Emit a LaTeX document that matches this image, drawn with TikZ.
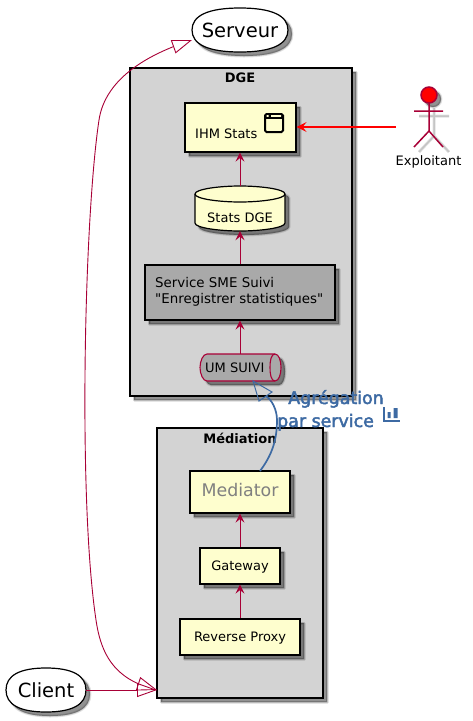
\documentclass[tikz,border=0pt]{standalone}
\usepackage{fontspec}
\setmainfont{DejaVu Sans}
\newfontfamily\semibold[FakeBold=2.6]{DejaVu Sans}
\newfontfamily\plainquotes{DejaVu Sans}
\usetikzlibrary{arrows.meta,shapes.geometric,bending}
\definecolor{crim}{HTML}{A80036}
\definecolor{boxy}{HTML}{FEFECE}
\definecolor{blueline}{HTML}{3D6AA3}
\definecolor{contgray}{HTML}{D3D3D3}
\definecolor{darkg}{HTML}{A9A9A9}
\newcommand{\softshadow}[1]{%
  \foreach \w in {3,1.6,0.4}{%
    \path[fill=black,draw=black,fill opacity=.17,draw opacity=.1,line width=\w pt,shift={(4,4)},line join=round] #1;}}
\newcommand{\fs}[1]{\fontsize{#1pt}{16.5pt}\selectfont}
% fat ellipse: centre x, centre y, x radius, y radius
\newcommand{\fatellipse}[4]{(#1-#3,#2) .. controls (#1-#3,#2-0.66*#4) and (#1-0.66*#3,#2-#4) .. (#1,#2-#4) .. controls (#1+0.66*#3,#2-#4) and (#1+#3,#2-0.66*#4) .. (#1+#3,#2) .. controls (#1+#3,#2+0.66*#4) and (#1+0.66*#3,#2+#4) .. (#1,#2+#4) .. controls (#1-0.66*#3,#2+#4) and (#1-#3,#2+0.66*#4) .. (#1-#3,#2) -- cycle}
\tikzset{
  x=1pt,y=-1pt,
  boxnode/.style={draw=black,line width=1.2pt,fill=boxy,inner sep=0pt,rectangle},
  container/.style={draw=black,line width=1.2pt,fill=contgray,inner sep=0pt,rectangle},
  usecase/.style={ellipse,inner sep=0pt,minimum width=96pt,minimum height=44pt},
  lbl/.style={inner sep=0pt,font=\fs{13}},
  titlel/.style={inner sep=0pt,font=\fs{13}\bfseries},
  link/.style={draw=crim,line width=1pt,-{Stealth[length=9pt,width=9pt,inset=3.5pt]}},
  redlink/.style={draw=red,line width=1.8pt,-{Stealth[length=10pt,width=10pt,inset=4pt]}},
  hollow/.style={draw=crim,line width=.9pt},
  bluel/.style={inner sep=0pt,text=blueline,font=\fs{17.4}\semibold},
}
\begin{document}
\begin{tikzpicture}
\useasboundingbox (0,0) rectangle (473,721);
% containers
\softshadow{(130,68) rectangle (352,396)}
\node[container,minimum width=222pt,minimum height=328pt] (dge) at (241,232) {};
\node[titlel] (dget) at (240,78) {DGE};
\softshadow{(157,428) rectangle (323,698)}
\node[container,minimum width=166pt,minimum height=270pt] (med) at (240,563) {};
\node[titlel] (medt) at (240,438) {Médiation};
% use cases
\softshadow{\fatellipse{240}{30}{48}{22}}
\draw[black,line width=1.2pt,fill=white] \fatellipse{240}{30}{48}{22};
\node[usecase] (srv) at (240,30) {\fs{19.5}Serveur};
\softshadow{\fatellipse{46}{690}{40}{22}}
\draw[black,line width=1.2pt,fill=white] \fatellipse{46}{690}{40}{22};
\node[usecase,minimum width=80pt] (cli) at (46,690) {\fs{19.5}Client};
% IHM
\softshadow{(185,103) rectangle (296,152)}
\node[boxnode,minimum width=111pt,minimum height=49pt] (ihm) at (240.5,127.5) {};
\node[lbl,anchor=base west] (ihmt) at (195,138) {IHM Stats};
\draw[black,line width=2pt,rounded corners=1.5pt,fill=boxy] (265,114) rectangle (283,132);
\fill[black] (265,114) rectangle (283,118.5);
\fill[boxy] (266.5,115.2) rectangle (268.5,116.8) (271,115.2) rectangle (281,116.8);
% database
\softshadow{(195,194) -- (195,223) .. controls (195,228) and (220,231) .. (240,231) .. controls (260,231) and (285,228) .. (285,223) -- (285,194) .. controls (285,189) and (260,186) .. (240,186) .. controls (220,186) and (195,189) .. (195,194) -- cycle}
\draw[black,line width=1.2pt,fill=boxy] (195,194) -- (195,223) .. controls (195,228) and (220,231) .. (240,231) .. controls (260,231) and (285,228) .. (285,223) -- (285,194) .. controls (285,189) and (260,186) .. (240,186) .. controls (220,186) and (195,189) .. (195,194) -- cycle;
\draw[black,line width=1.2pt] (195,194) .. controls (195,199) and (220,202) .. (240,202) .. controls (260,202) and (285,199) .. (285,194);
\node[inner sep=0pt,minimum width=90pt,minimum height=45pt] (db) at (240,208.5) {};
\node[lbl,anchor=base] (dbt) at (240,222) {Stats DGE};
% service
\softshadow{(145,265) rectangle (335,320)}
\node[boxnode,fill=darkg,minimum width=190pt,minimum height=55pt] (sme) at (240,292.5) {};
\node[inner sep=0pt,anchor=west,align=left,font=\fs{13.4}\plainquotes] (smet) at (155,292) {Service SME Suivi\\"Enregistrer statistiques"};
% queue
\softshadow{(207,354) -- (275,354) .. controls (279,354) and (281,361) .. (281,367.5) .. controls (281,374) and (279,381) .. (275,381) -- (207,381) .. controls (203,381) and (200,374) .. (200,367.5) .. controls (200,361) and (203,354) .. (207,354) -- cycle}
\draw[crim,line width=1.1pt,fill=darkg] (207,354) -- (275,354) .. controls (279,354) and (281,361) .. (281,367.5) .. controls (281,374) and (279,381) .. (275,381) -- (207,381) .. controls (203,381) and (200,374) .. (200,367.5) .. controls (200,361) and (203,354) .. (207,354) -- cycle;
\draw[crim,line width=1.1pt] (275,354) .. controls (271,354) and (270,361) .. (270,367.5) .. controls (270,374) and (271,381) .. (275,381);
\node[inner sep=0pt,minimum width=80pt,minimum height=27pt] (um) at (240,367.5) {};
\node[lbl,anchor=base west] (umt) at (205,372) {UM SUIVI};
% mediation boxes
\softshadow{(190,471) rectangle (290,513)}
\node[boxnode,minimum width=100pt,minimum height=42pt,text height=11pt,text depth=1.6pt] (mdr) at (240,492) {\fs{17.4}\textcolor{gray}{Mediator}};
\softshadow{(200,548) rectangle (280,584)}
\node[boxnode,minimum width=80pt,minimum height=36pt,text height=10pt,text depth=.6pt] (gw) at (240,566) {\fs{13}Gateway};
\softshadow{(180,619) rectangle (300,655)}
\node[boxnode,minimum width=120pt,minimum height=36pt,text height=10pt,text depth=.6pt] (rp) at (240,637) {\fs{13}Reverse Proxy};
% actor
\coordinate (acth) at (429,95);
\softshadow{(429,95) circle (8)}
\foreach \w in {3,1.5}{\draw[black,opacity=.12,line width=\w pt,shift={(5,5)}] (429,103) -- (429,131) (414,111) -- (444,111) (429,131) -- (414,147) (429,131) -- (444,147);}
\draw[crim,line width=1.5pt,fill=red] (acth) circle (8);
\draw[crim,line width=1.5pt] (429,103) -- (429,131) (414,111) -- (443,111) (429,131) -- (414,147) (429,131) -- (443,147);
\node[lbl,anchor=base] (actt) at (428.5,165) {Exploitant};
\coordinate (actw) at (396,127);
% connectors
\draw[link] (db.north) -- (ihm.south -| db.north);
\draw[link] (sme.north) -- (db.south);
\draw[link] (um.north) -- (sme.south);
\draw[link] (gw.north) -- (mdr.south);
\draw[link] (rp.north) -- (gw.south);
\draw[redlink] (actw) -- (ihm.east |- actw);
\coordinate (srvtip) at (192,40);
\coordinate (medtip) at (157,690);
\draw[hollow,{Triangle[open,length=20pt,width=14pt,line width=.9pt]}-{Triangle[open,length=20pt,width=14pt,line width=.9pt]}]
  (srvtip) .. controls (145,55) and (105,80) .. (99,120) .. controls (84,220) and (78,500) .. (96,620) .. controls (101,655) and (115,680) .. (medtip);
\draw[hollow,-{Triangle[open,length=20pt,width=14pt,line width=.9pt]}] (cli.east) -- (medtip);
\coordinate (blue1) at (260,471);
\coordinate (bluetip) at (253,381);
\draw[blueline,line width=1.7pt] (blue1) .. controls (272,455) and (277,440) .. (277,420) .. controls (277,410) and (272,400) .. (266,396);
\draw[blueline,line width=1pt,fill=none] (bluetip) -- (259,401) -- (272,392) -- cycle;
% labels
\node[bluel,anchor=base] (ag) at (336,404) {Agrégation};
\node[bluel,anchor=base west] (ps) at (277,427) {par service};
\draw[blueline,line width=1.7pt] (384,407) -- (384,421) -- (400,421);
\fill[blueline] (387.5,412) rectangle (390.5,418) (393.5,408) rectangle (397.5,418);
\end{tikzpicture}
\end{document}
